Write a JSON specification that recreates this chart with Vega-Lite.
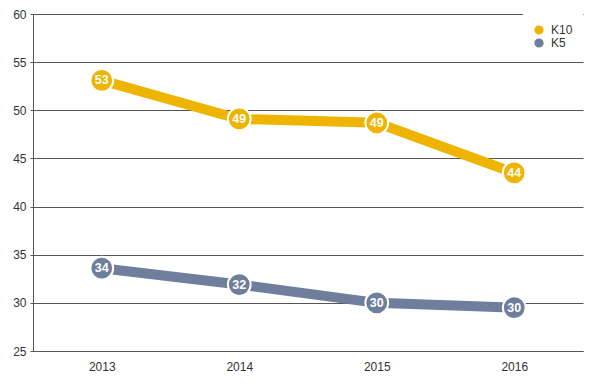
{
  "$schema": "https://vega.github.io/schema/vega-lite/v6.json",
  "width": 550,
  "height": 337,
  "autosize": "none",
  "padding": {"left": 33, "top": 14, "right": 11, "bottom": 33},
  "background": "white",
  "config": {
    "view": {"stroke": null},
    "font": "Liberation Sans"
  },
  "data": {
    "values": [
      {"year": "2013", "series": "K10", "value": 53.1},
      {"year": "2014", "series": "K10", "value": 49.1},
      {"year": "2015", "series": "K10", "value": 48.7},
      {"year": "2016", "series": "K10", "value": 43.5},
      {"year": "2013", "series": "K5", "value": 33.6},
      {"year": "2014", "series": "K5", "value": 31.9},
      {"year": "2015", "series": "K5", "value": 30.0},
      {"year": "2016", "series": "K5", "value": 29.5}
    ]
  },
  "encoding": {
    "x": {
      "field": "year", "type": "ordinal", "title": null,
      "scale": {"type": "point", "padding": 0.5},
      "axis": {"labelAngle": 0, "ticks": false, "domain": true, "domainColor": "#555", "labelFontSize": 12, "labelColor": "#333", "labelPadding": 10, "grid": false}
    },
    "y": {
      "field": "value", "type": "quantitative", "title": null,
      "scale": {"domain": [25, 60], "nice": false, "zero": false},
      "axis": {"values": [25, 30, 35, 40, 45, 50, 55, 60], "grid": true, "gridColor": "#555", "gridWidth": 1, "gridOpacity": 1, "domain": true, "domainColor": "#555", "tickSize": 3, "tickColor": "#555", "labelFontSize": 12, "labelColor": "#333", "labelPadding": 4}
    },
    "color": {
      "field": "series", "type": "nominal",
      "scale": {"domain": ["K10", "K5"], "range": ["#EFB400", "#6E7E9C"]},
      "legend": {"title": null, "orient": "none", "legendX": 490, "legendY": 0, "padding": 10, "fillColor": "white", "symbolType": "circle", "symbolSize": 60, "labelFontSize": 12, "labelColor": "#333", "rowPadding": -1, "labelOffset": 6}
    }
  },
  "layer": [
    {"mark": {"type": "line", "strokeWidth": 10}},
    {"mark": {"type": "point", "filled": true, "size": 520, "stroke": "white", "strokeWidth": 2, "opacity": 1, "strokeOpacity": 1}},
    {
      "mark": {"type": "text", "color": "white", "fontWeight": "bold", "fontSize": 12.5},
      "encoding": {"text": {"field": "value", "type": "quantitative", "format": ".0f"}, "color": {"value": "white"}}
    }
  ]
}
